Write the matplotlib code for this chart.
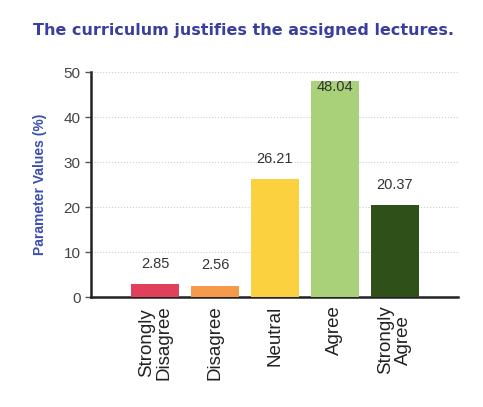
import numpy as np
import matplotlib.pyplot as plt

categories = ["Strongly\nDisagree", "Disagree", "Neutral", "Agree", "Strongly\nAgree"]
values = [2.85, 2.56, 26.21, 48.04, 20.37]
colors = ["#e0405a", "#f59a4a", "#fcd140", "#a8d17a", "#2f5018"]
yticks = [0, 10, 20, 30, 40, 50]

fig = plt.figure(figsize=(4.83, 4.07), dpi=100)
ax = fig.add_axes([0.188, 0.270, 0.760, 0.553])

x = np.arange(len(values))
ax.bar(x, values, width=0.8, color=colors, zorder=3)
for xi, v in zip(x, values):
    y = min(v + 4.5, 46.6)
    ax.text(xi, y, "%.2f" % v, ha="center", va="center", fontsize=10.5,
            color="#333333", family="Liberation Sans", zorder=4)

ax.set_xlim(-1.07, 5.05)
ax.set_ylim(0, 50)
ax.set_yticks(yticks)
ax.set_yticklabels([str(t) for t in yticks], fontsize=11, color="#444444",
                   family="Liberation Sans")
ax.set_xticks(x)
ax.set_xticklabels(categories, rotation=90, fontsize=13.5, color="#222222",
                   family="Liberation Sans", linespacing=1.05)
ax.tick_params(axis="x", length=0, pad=6)
ax.tick_params(axis="y", length=4, width=1, color="#555555")
ax.yaxis.grid(True, linestyle=":", color="#cccccc", linewidth=0.8, zorder=0)
for s in ["top", "right"]:
    ax.spines[s].set_visible(False)
for s in ["left", "bottom"]:
    ax.spines[s].set_linewidth(1.8)
    ax.spines[s].set_color("#222222")

ax.set_ylabel("Parameter Values (%)", fontsize=10, color="#3b4fb0",
              fontweight="bold", family="Liberation Sans", labelpad=12)
fig.text(0.505, 0.925, "The curriculum justifies the assigned lectures.",
         ha="center", va="center", fontsize=11.5, fontweight="bold",
         color="#3a3e9e", family="DejaVu Sans")

fig.savefig("out.png", dpi=100)
